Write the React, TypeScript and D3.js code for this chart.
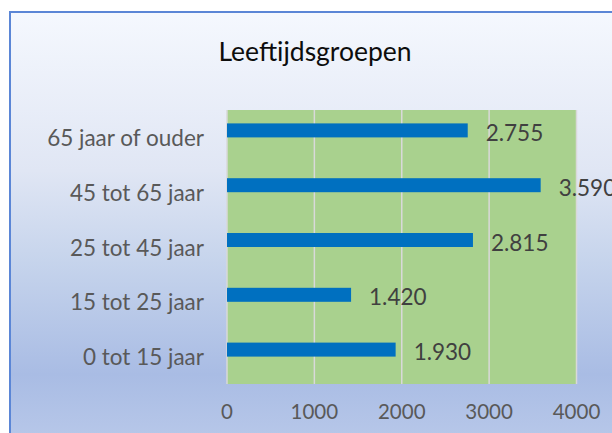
import React from "react";
import * as d3 from "d3";

const categories = ["65 jaar of ouder", "45 tot 65 jaar", "25 tot 45 jaar", "15 tot 25 jaar", "0 tot 15 jaar"];
const values = [2755, 3590, 2815, 1420, 1930];
const valueLabels = ["2.755", "3.590", "2.815", "1.420", "1.930"];
const ticks = [0, 1000, 2000, 3000, 4000];
const title = "Leeftijdsgroepen";

const W = 612;
const H = 433;
const plot = { left: 227, right: 576.5, top: 110, bottom: 384 };
const FONT = "Lato, 'Open Sans', sans-serif";

export default function App() {
  const x = d3.scaleLinear().domain([0, 4000]).range([plot.left, plot.right]);
  const y = d3.scaleBand<string>().domain(categories).range([plot.top, plot.bottom]);
  const barH = 14;

  return (
    <svg width={W} height={H} style={{ position: "absolute", left: 0, top: 0 }} fontFamily={FONT}>
      <defs>
        <linearGradient id="bg" x1="0" y1="0" x2="0" y2="1">
          <stop offset="0" stopColor="#f5f8fe" />
          <stop offset="0.35" stopColor="#e0e6f4" />
          <stop offset="0.55" stopColor="#c6d4ec" />
          <stop offset="0.8" stopColor="#a9bce4" />
          <stop offset="1" stopColor="#bdcceb" />
        </linearGradient>
      </defs>
      <rect x={0} y={0} width={W} height={H} fill="#ffffff" />
      <rect x={10} y={12} width={W + 20} height={H + 20} fill="url(#bg)" stroke="#5b86d6" strokeWidth={2} />
      <text x={315} y={51} textAnchor="middle" dominantBaseline="central" fontSize={26.5} fill="#0d0d0d">
        {title}
      </text>
      <rect x={plot.left} y={plot.top} width={plot.right - plot.left} height={plot.bottom - plot.top} fill="#a9d18e" />
      {ticks.map((t) => (
        <line key={"g" + t} x1={x(t)} x2={x(t)} y1={plot.top} y2={plot.bottom} stroke="#d9d9d9" strokeWidth={1.5} />
      ))}
      {categories.map((c, i) => {
        const cy = (y(c) as number) + y.bandwidth() / 2;
        return (
          <g key={c}>
            <rect x={x(0)} y={cy - barH} width={x(values[i]) - x(0)} height={barH} fill="#0070c0" />
            <text x={x(values[i]) + 18} y={cy - 5} dominantBaseline="central" fontSize={22.5} fill="#404040">
              {valueLabels[i]}
            </text>
            <text x={204} y={cy} textAnchor="end" dominantBaseline="central" fontSize={22.5} fill="#595959">
              {c}
            </text>
          </g>
        );
      })}
      {ticks.map((t) => (
        <text key={"t" + t} x={x(t)} y={411} textAnchor="middle" dominantBaseline="central" fontSize={20.5} fill="#595959">
          {t}
        </text>
      ))}
    </svg>
  );
}
